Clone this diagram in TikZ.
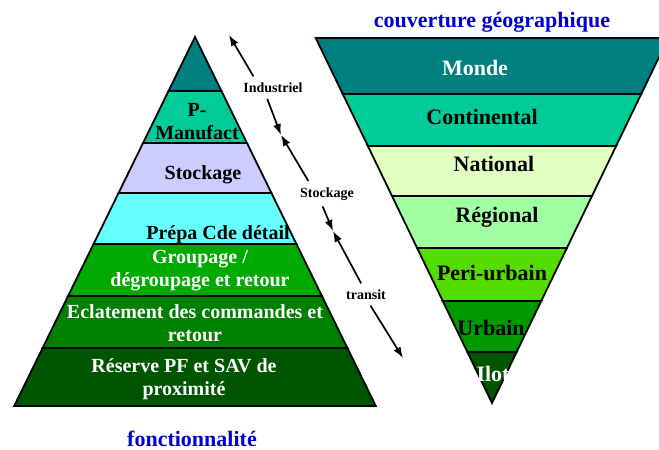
\documentclass[tikz,border=0pt]{standalone}
\usepackage{fontspec}
\setmainfont{Liberation Serif}
\usetikzlibrary{arrows.meta}

\definecolor{lTeal}{RGB}{0,128,128}
\definecolor{lMint}{RGB}{0,204,153}
\definecolor{lLav}{RGB}{204,204,255}
\definecolor{lCyan}{RGB}{102,255,255}
\definecolor{lGreen}{RGB}{0,170,0}
\definecolor{lMid}{RGB}{0,128,0}
\definecolor{lDark}{RGB}{0,85,0}
\definecolor{rPale}{RGB}{224,255,192}
\definecolor{rLight}{RGB}{160,255,160}
\definecolor{rBright}{RGB}{85,221,0}
\definecolor{rGreen}{RGB}{0,153,0}
\definecolor{titleblue}{RGB}{0,0,204}

\begin{document}
\begin{tikzpicture}[x=1pt,y=-1pt,
  band/.style={draw=black,line width=1.8pt},
  lbl/.style={font=\fontsize{20}{23}\selectfont\bfseries,align=center,inner sep=0pt},
  geo/.style={font=\fontsize{22}{24}\selectfont\bfseries,inner sep=0pt},
  tag/.style={font=\fontsize{14}{16}\selectfont\bfseries,inner sep=3pt},
  ttl/.style={font=\fontsize{22}{24}\selectfont\bfseries,text=titleblue,inner sep=0pt},
  arr/.style={-{Latex[length=11pt,width=8pt]},line width=1.7pt}]
\useasboundingbox (0,0) rectangle (659,450);
\clip (0,0) rectangle (659,450);

% pyramide fonctionnalite
\foreach \ya/\yb/\c in {37/91/lTeal,91/143/lMint,143/193/lLav,193/244/lCyan,
                        244/296/lGreen,296/348/lMid,348/406/lDark}
  \filldraw[band,fill=\c] ({195-0.49*(\ya-37)},\ya) -- ({195+0.49*(\ya-37)},\ya)
    -- ({195+0.49*(\yb-37)},\yb) -- ({195-0.49*(\yb-37)},\yb) -- cycle;

\node[lbl] (pman) at (197,122) {P-\\Manufact};
\node[lbl] (stock) at (203,175) {Stockage};
\node[lbl] (prepa) at (218,235) {Prépa Cde détail};
\node[lbl,text=white] (group) at (200,271) {Groupage /\\dégroupage et retour};
\node[lbl,text=white] (eclat) at (195,323) {Eclatement des commandes et\\retour};
\node[lbl,text=white] (reserve) at (184,379) {Réserve PF et SAV de\\proximité};

% pyramide inversee couverture
\foreach \ya/\yb/\c in {38/94/lTeal,94/146/lMint,146/196/rPale,196/248/rLight,
                        248/301/rBright,301/352/rGreen,352/403/lDark}
  \filldraw[band,fill=\c] ({492-0.483*(403-\ya)},\ya) -- ({492+0.483*(403-\ya)},\ya)
    -- ({492+0.483*(403-\yb)},\yb) -- ({492-0.483*(403-\yb)},\yb) -- cycle;

\node[geo,text=white] (monde) at (475,68) {Monde};
\node[geo] (conti) at (482,117) {Continental};
\node[geo] (natio) at (494,164) {National};
\node[geo] (regio) at (497,217) {Régional};
\node[geo] (peri) at (492,273) {Peri-urbain};
\node[geo] (urb) at (491,328) {Urbain};
\node[geo,text=white] (ilot) at (493,374) {Ilot};

\node[ttl] (titreGeo) at (492,22) {couverture géographique};
\node[ttl] (titreFonc) at (192,439) {fonctionnalité};

% niveaux
\node[tag] (ind) at (273,88) {Industriel};
\node[tag] (sto) at (327,194) {Stockage};
\node[tag] (tra) at (366,295) {transit};
\coordinate (haut) at (229,35);
\coordinate (m1) at (281,135);
\coordinate (m2) at (333,231);
\coordinate (bas) at (403,358);

\draw[arr,shorten <=4pt] (ind.155) -- (haut);
\draw[arr,shorten <=3pt] (ind.-130) -- (m1);
\draw[arr,shorten <=4pt] (sto.150) -- (m1);
\draw[arr,shorten <=3pt] (sto.-120) -- (m2);
\draw[arr,shorten <=4pt] (tra.110) -- (m2);
\draw[arr,shorten <=3pt] (tra.-70) -- (bas);
\end{tikzpicture}
\end{document}
